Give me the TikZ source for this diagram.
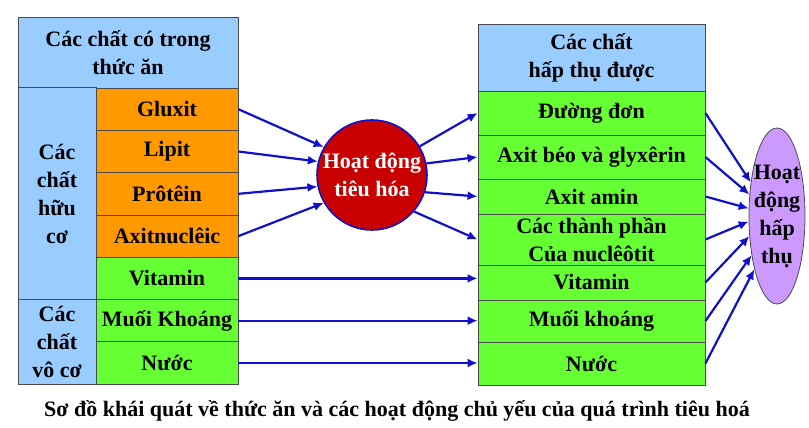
\documentclass[tikz,border=0pt]{standalone}
\usepackage{fontspec}
\setmainfont{Liberation Serif}
\usepackage{tikz}
\usetikzlibrary{arrows.meta,positioning,shapes.geometric}
\definecolor{headblue}{HTML}{99CCFF}
\definecolor{cellorange}{HTML}{FF9900}
\definecolor{cellgreen}{HTML}{66FF33}
\definecolor{cellline}{HTML}{4A4A4A}
\definecolor{digestred}{HTML}{C80000}
\definecolor{absorbviolet}{HTML}{CC99FF}
\definecolor{arrowblue}{HTML}{1010CC}
\tikzset{>=latex}

\begin{document}
\begin{tikzpicture}[x=1pt,y=-1pt,
    bigfont/.style={font=\fontsize{22}{28}\selectfont\bfseries},
    cell/.style={draw=cellline,line width=0.8pt,inner sep=0pt,align=center,bigfont},
    bluecell/.style={cell,fill=headblue},
    orangecell/.style={cell,fill=cellorange,minimum width=142,minimum height=42.3},
    greencell/.style={cell,fill=cellgreen},
    digestnode/.style={circle,draw=arrowblue,line width=1.6pt,fill=digestred,text=white,
      minimum size=110,inner sep=0pt,align=center,bigfont},
    absorbnode/.style={ellipse,draw=cellline,line width=0.8pt,fill=absorbviolet,
      minimum width=56,minimum height=176,inner sep=0pt},
    conn/.style={-{Latex[length=10pt,width=9pt]},draw=arrowblue,line width=2.2pt}]
  \useasboundingbox (0,0) rectangle (809,428);
  % food table
  \node[bluecell,minimum width=220,minimum height=71] (foodhead) at (128,52.5) {Các chất có trong\\thức ăn};
  \node[bluecell,minimum width=78,minimum height=211.5] (organic) at (57,193.6) {Các\\chất\\hữu\\cơ};
  \node[bluecell,minimum width=78,minimum height=84.6] (inorganic) at (57,341.8) {Các\\chất\\vô cơ};
  \foreach \name/\txt/\y in {gluxit/Gluxit/109.2, lipit/Lipit/151.5, protein/Prôtêin/193.8, nucleic/Axitnuclêic/236.1}
    \node[orangecell] (\name) at (167,\y) {\txt};
  \foreach \name/\txt/\y in {vitaminL/Vitamin/278.4, mineralL/Muối Khoáng/320.7, waterL/Nước/363}
    \node[greencell,minimum width=142,minimum height=42.3] (\name) at (167,\y) {\txt};
  % digestion
  \node[digestnode] (digest) at (372,175) {Hoạt động\\tiêu hóa};
  % absorbed table
  \node[bluecell,minimum width=227,minimum height=67] (absorbhead) at (591.5,57.5) {Các chất\\hấp thụ được};
  \foreach \name/\txt/\y/\h in {sugar/Đường đơn/113/44, fatty/Axit béo và glyxêrin/157/44, amino/Axit amin/196.5/35,
      vitaminR/Vitamin/282.5/35, mineralR/Muối khoáng/321/42, waterR/Nước/363.5/43}
    \node[greencell,minimum width=227,minimum height=\h] (\name) at (591.5,\y) {\txt};
  \node[greencell,minimum width=227,minimum height=51] (nucleo) at (591.5,239.5) {Các thành phần\\Của nuclêôtit};
  % absorption
  \node[absorbnode] (absorb) at (777,216) {};
  \node[bigfont,align=center,inner sep=0pt] (absorbtext) at (absorb.center) {Hoạt\\động\\hấp\\thụ};
  % arrows
  \draw[conn] (gluxit.east) -- (digest.150);
  \draw[conn] (lipit.east) -- (digest.166);
  \draw[conn] (protein.east) -- (digest.192);
  \draw[conn] (nucleic.east) -- (digest.210);
  \draw[conn] (vitaminL.east) -- (vitaminL.east -| vitaminR.west);
  \draw[conn] (mineralL.east) -- (mineralL.east -| mineralR.west);
  \draw[conn] (waterL.east) -- (waterL.east -| waterR.west);
  \draw[conn] (digest.31) -- (sugar.west);
  \draw[conn] (digest.12) -- (fatty.west);
  \draw[conn] (digest.-18) -- (amino.west);
  \draw[conn] (digest.-41) -- (nucleo.west);
  \draw[conn] (sugar.east) -- (absorb.128);
  \draw[conn] (fatty.east) -- (absorb.142);
  \draw[conn] (amino.east) -- (absorb.165);
  \draw[conn] (nucleo.east) -- (absorb.191);
  \draw[conn] (vitaminR.east) -- (absorb.216);
  \draw[conn] (mineralR.east) -- (absorb.237);
  \draw[conn] (waterR.east) -- (absorb.247);
  % caption
  \node[bigfont,inner sep=0pt] (caption) at (397,411) {Sơ đồ khái quát về thức ăn và các hoạt động chủ yếu của quá trình tiêu hoá};
\end{tikzpicture}
\end{document}
